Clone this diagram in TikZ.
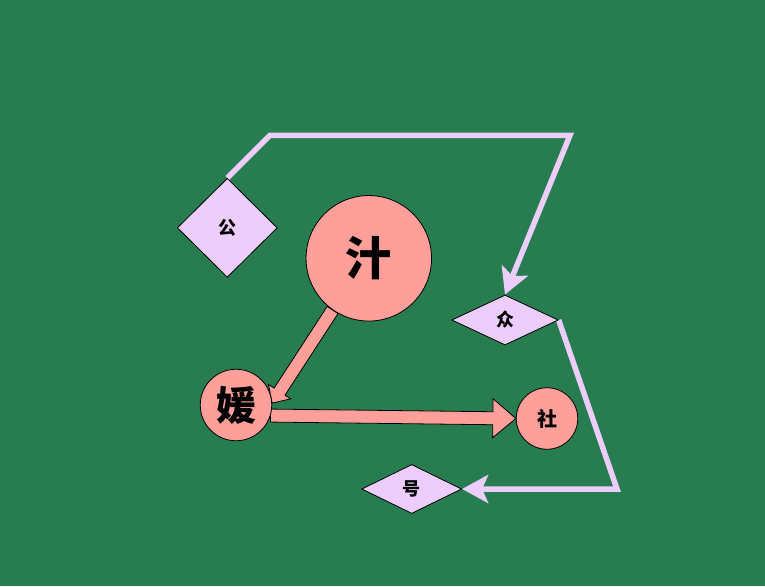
\documentclass[tikz,border=0pt]{standalone}
\usepackage{fontspec}
\newfontfamily\cjk{Noto Sans CJK SC}
\usetikzlibrary{shapes.geometric,arrows.meta,calc}
\definecolor{board}{RGB}{40,125,80}
\definecolor{salmon}{RGB}{255,159,153}
\definecolor{lilac}{RGB}{236,205,251}
\pgfdeclarelayer{ground}
\pgfdeclarelayer{links}
\pgfsetlayers{ground,links,main}
\newcommand{\fatlink}[5]{%
    \coordinate (neck) at ($(#2)!#5!(#1)$);
    \draw[fatlink]
        ($(#1)!#3!90:(#2)$) -- ($(neck)!#3!90:(#2)$) -- ($(neck)!#4!90:(#2)$)
        -- (#2) -- ($(neck)!#4!-90:(#2)$) -- ($(neck)!#3!-90:(#2)$)
        -- ($(#1)!#3!-90:(#2)$) -- cycle;
}
\begin{document}
\begin{tikzpicture}[
            x=1pt, y=-1pt,
            circ/.style={circle, draw=black, line width=0.8pt, fill=salmon, inner sep=0pt},
            rhomb/.style={diamond, draw=black, line width=0.8pt, fill=lilac, inner sep=0pt,
                font=\cjk\bfseries\fontsize{18pt}{18pt}\selectfont},
            fatlink/.style={draw=black, line width=0.8pt, fill=salmon, line join=miter},
            thinlink/.style={draw=lilac, line width=5.5pt,
                -{Stealth[length=26pt, width=28pt, inset=6pt]}}
        ]
            \begin{pgfonlayer}{ground}
                \fill[board] (0,0) rectangle (765,586);
            \end{pgfonlayer}
            \node[
                rhomb,
                minimum width=100pt,
                minimum height=99pt
            ] (gong) at (227.3,227.8) {公};
            \node[
                circ,
                minimum size=125.5pt,
                font=\cjk\bfseries\fontsize{46pt}{46pt}\selectfont
            ] (ji) at (368.8,258.3) {汁};
            \node[
                rhomb,
                minimum width=106.5pt,
                minimum height=50pt
            ] (zhong) at (505,320) {众};
            \node[
                circ,
                minimum size=71.5pt,
                font=\cjk\bfseries\fontsize{40pt}{40pt}\selectfont
            ] (yuan) at (236,405) {媛};
            \node[
                circ,
                minimum size=61.5pt,
                font=\cjk\bfseries\fontsize{20pt}{20pt}\selectfont
            ] (she) at (547,418.5) {社};
            \node[
                rhomb,
                minimum width=100pt,
                minimum height=49pt
            ] (hao) at (411.7,489) {号};
            \node[coordinate, name=knee1] at (270,135.3) {};
            \node[coordinate, name=knee2] at (570,135.3) {};
            \node[coordinate, name=knee3] at (617,489) {};
            \begin{pgfonlayer}{links}
                \fatlink{ji.235}{yuan.3}{6.5pt}{13.25pt}{13.7pt}
                \fatlink{yuan.343}{she.west}{6.5pt}{19.5pt}{23pt}
                \draw[thinlink] (gong.north) -- (knee1) -- (knee2) -- (zhong.north);
                \draw[thinlink] (zhong.east) -- (knee3) -- (hao.east);
            \end{pgfonlayer}
        \end{tikzpicture}
\end{document}
